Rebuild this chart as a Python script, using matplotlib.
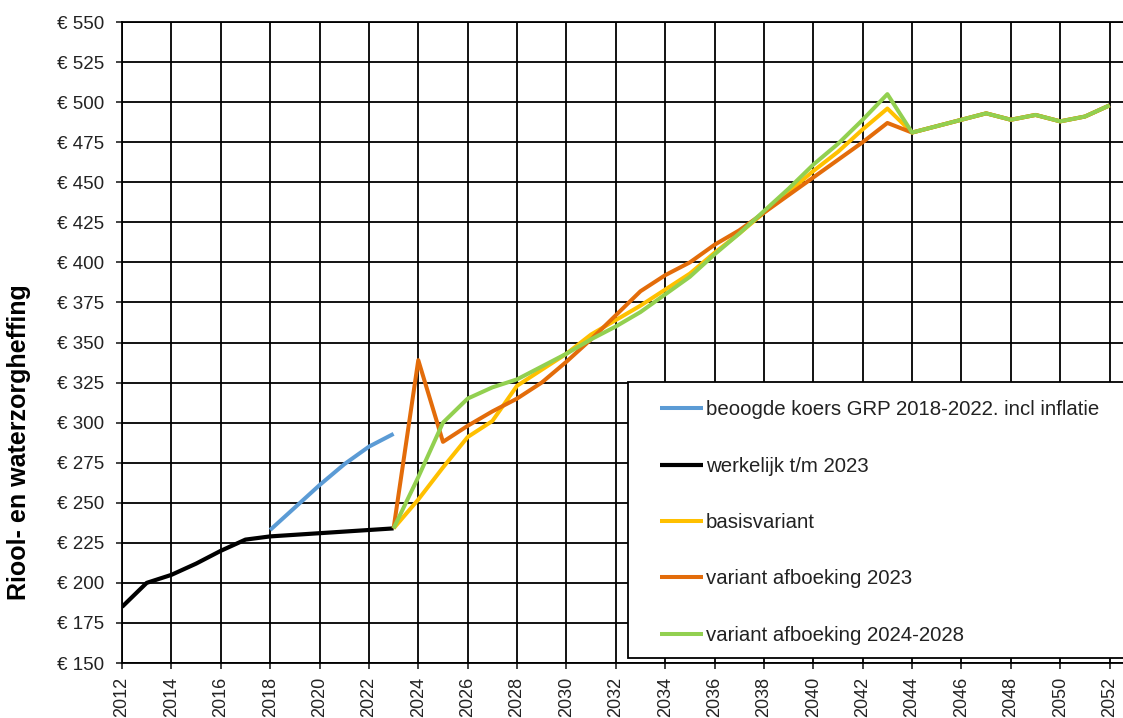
import matplotlib
matplotlib.use("Agg")
import matplotlib.pyplot as plt
from matplotlib.patches import Rectangle

plt.rcParams['font.family'] = ['Liberation Sans', 'DejaVu Sans']

# ---- data ----
years_werkelijk = list(range(2012, 2024))
werkelijk = [185, 200, 205, 212, 220, 227, 229, 230, 231, 232, 233, 234]

years_beoogd = list(range(2018, 2024))
beoogd = [233, 247, 261, 274, 285, 293]

years_var = list(range(2023, 2053))
tail = [485, 489, 493, 489, 492, 488, 491, 498]  # 2045-2052
basis = [234, 252, 272, 291, 301, 323, 333, 343, 355, 364, 373, 383, 393, 406,
         418, 431, 444, 457, 469, 483, 496, 481] + tail
afb2023 = [234, 339, 288, 298, 307, 315, 325, 338, 352, 367, 382, 392, 400, 411,
           420, 431, 442, 453, 464, 475, 487, 481] + tail
afb2428 = [234, 266, 300, 315, 322, 327, 335, 343, 352, 360, 369, 380, 391, 405,
           418, 432, 446, 461, 474, 489, 505, 481] + tail

labels = ["beoogde koers GRP 2018-2022. incl inflatie", "werkelijk t/m 2023",
          "basisvariant", "variant afboeking 2023", "variant afboeking 2024-2028"]
colors = ["#5B9BD5", "#000000", "#FFC000", "#E36C0A", "#92D050"]

yticks = list(range(150, 551, 25))
xticks = list(range(2012, 2053, 2))

# ---- figure ----
W, H = 1123, 718
fig = plt.figure(figsize=(W / 100, H / 100), dpi=100)
left_px, right_px, top_px, bot_px = 122, 1123, 22, 663
ax = fig.add_axes([left_px / W, 1 - bot_px / H, (right_px - left_px) / W, (bot_px - top_px) / H])

lw = 2.9
kw = dict(solid_joinstyle='round', solid_capstyle='butt', zorder=3)
ax.plot(years_beoogd, beoogd, color=colors[0], lw=lw, label=labels[0], **kw)
ax.plot(years_werkelijk, werkelijk, color=colors[1], lw=3.0, label=labels[1], **kw)
ax.plot(years_var, basis, color=colors[2], lw=lw, label=labels[2], **kw)
ax.plot(years_var, afb2023, color=colors[3], lw=lw, label=labels[3], **kw)
ax.plot(years_var, afb2428, color=colors[4], lw=lw, label=labels[4], **kw)

ax.set_xlim(2012, 2012 + (right_px - left_px) / 24.69)
ax.set_ylim(150, 550)
ax.set_xticks(xticks)
ax.set_xticklabels([str(x) for x in xticks], rotation=90)
ax.set_yticks(yticks)
ax.set_yticklabels([f"€ {v}" for v in yticks])
ax.tick_params(axis='y', length=4, width=1.2, pad=9, labelsize=13.5, colors='#222222')
ax.tick_params(axis='x', length=4, width=1.2, pad=6, labelsize=13, colors='#222222')
ax.grid(True, color='black', lw=1.3, zorder=1)
ax.set_axisbelow(True)
ax.spines['right'].set_visible(False)
for s in ['left', 'bottom', 'top']:
    ax.spines[s].set_linewidth(1.3)
    ax.spines[s].set_color('black')

fig.text(19 / W, 1 - 442 / H, "Riool- en waterzorgheffing", rotation=90,
         ha='center', va='center', fontsize=18, fontweight='bold')

# legend box
ax_w = right_px - left_px
ax_h = bot_px - top_px
bx0 = (628 - left_px) / ax_w
by0 = (bot_px - 658) / ax_h
bh = (658 - 382) / ax_h
rect = Rectangle((bx0, by0), 0.6, bh, transform=ax.transAxes, facecolor='white',
                 edgecolor='black', lw=1.3, zorder=5, clip_on=False)
ax.add_patch(rect)

fs = 14.7
fs_px = fs * 100 / 72
bp = 0.9
leg = ax.legend(loc='upper left',
                bbox_to_anchor=((660 - bp * fs_px - left_px) / ax_w, (bot_px - 382) / ax_h),
                frameon=False, fontsize=fs, handlelength=2.1, handletextpad=0.15,
                labelspacing=1.83, borderpad=bp, borderaxespad=0)
leg.set_zorder(6)
for t in leg.get_texts():
    t.set_color('#222222')

fig.savefig("out.png", dpi=100)
